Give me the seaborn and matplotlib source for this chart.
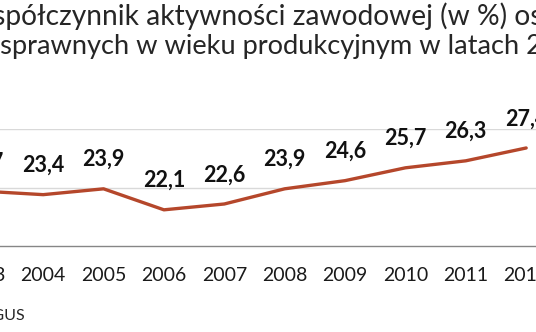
import numpy as np
import matplotlib
matplotlib.use("Agg")
import matplotlib.pyplot as plt
import seaborn as sns

years = ["2003", "2004", "2005", "2006", "2007", "2008", "2009", "2010", "2011", "2012"]
values = [23.7, 23.4, 23.9, 22.1, 22.6, 23.9, 24.6, 25.7, 26.3, 27.4]
value_labels = ["23,7", "23,4", "23,9", "22,1", "22,6", "23,9", "24,6", "25,7", "26,3", "27,4"]
title_line1 = "Współczynnik aktywności zawodowej (w %) osób"
title_line2 = "niepełnosprawnych w wieku produkcyjnym w latach 2003-2012"
source = "Źródło: GUS"

sns.set_style("white")
plt.rcParams["font.family"] = ["Lato", "DejaVu Sans"]

W, H, DPI = 536, 332, 100
fig = plt.figure(figsize=(W / DPI, H / DPI), dpi=DPI)
fig.patch.set_facecolor("white")

# axes geometry in pixels (chart is cropped on both sides)
step = 60.375
x_left = -17.2 - step / 2
ax_w = step * 10
y_bottom_px = 246.0
y_top_px = 129.3
ax = fig.add_axes([x_left / W, (H - y_bottom_px) / H, ax_w / W, (y_bottom_px - y_top_px) / H])
ax.set_facecolor("none")

idx = np.arange(len(years))
sns.lineplot(x=idx, y=values, ax=ax, color="#B5472B", linewidth=2.4,
             solid_joinstyle="round", solid_capstyle="round")

ax.set_xlim(-0.5, len(years) - 0.5)
ax.set_ylim(19, 29)
ax.set_yticks([24, 29])
ax.set_yticklabels([])
ax.tick_params(axis="y", length=0)
ax.yaxis.grid(True, color="#D9D9D9", linewidth=1.0)
ax.xaxis.grid(False)
for s in ["left", "right", "top"]:
    ax.spines[s].set_visible(False)
ax.spines["bottom"].set_color("#868686")
ax.spines["bottom"].set_linewidth(1.0)

ax.set_xticks(idx)
ax.set_xticklabels(years)
ax.set_xticks(np.arange(-0.5, len(years), 1.0), minor=True)
ax.tick_params(axis="x", which="major", length=0, pad=15, labelsize=14, labelcolor="#1A1A1A")
ax.tick_params(axis="x", which="minor", length=5, width=1, color="#868686", direction="out")
ax.set_xlabel("")
ax.set_ylabel("")

for i, (v, lab) in enumerate(zip(values, value_labels)):
    ax.annotate(lab, (i, v), xytext=(0, 21), textcoords="offset points",
                ha="center", va="center", fontsize=15.5, fontweight="bold",
                color="#111111", annotation_clip=False)

# title: sized so that visible part fits the crop
renderer = fig.canvas.get_renderer()

def text_w(s, size):
    t = fig.text(0, 0, s, fontsize=size)
    w = t.get_window_extent(renderer).width
    t.remove()
    return w

base = 10.0
vis1 = "spółczynnik aktywności zawodowej (w %) o"
size1 = base * 537.0 / text_w(vis1, base)
vis2 = "sprawnych w wieku produkcyjnym w latach "
size2 = base * 527.0 / text_w(vis2, base)
x1 = -7.0 - text_w("W", size1)
x2 = 0.5 - text_w("niepełno", size2)
fig.text(x1 / W, (H - 25) / H, title_line1, fontsize=size1, color="#262626", ha="left", va="baseline")
fig.text(x2 / W, (H - 54) / H, title_line2, fontsize=size2, color="#262626", ha="left", va="baseline")

fig.text(25 / W, (H - 316) / H, source, fontsize=11.5, color="#262626", ha="right", va="center")

fig.savefig("out.png", dpi=DPI, facecolor="white")
